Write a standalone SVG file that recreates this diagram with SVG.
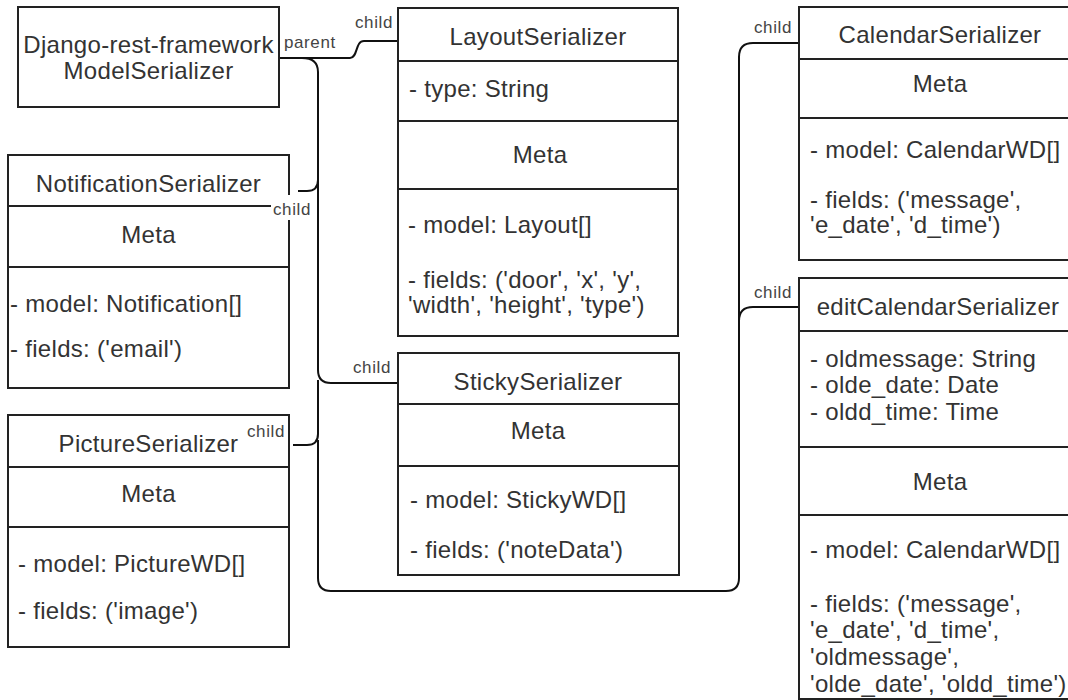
<svg xmlns="http://www.w3.org/2000/svg" width="1068" height="700" viewBox="0 0 1068 700">
<style>
  .box { fill: #fff; stroke: #222; stroke-width: 2; }
  .div { stroke: #222; stroke-width: 2; }
  .t { font-family: "Liberation Sans", Arial, sans-serif; font-size: 24px; letter-spacing: 0.3px; fill: #333; }
  .c { text-anchor: middle; }
  .lbl { font-family: "Liberation Sans", Arial, sans-serif; font-size: 17px; letter-spacing: 0.6px; fill: #444; }
  .edge { fill: none; stroke: #111; stroke-width: 2; }
</style>
<rect width="1068" height="700" fill="#fff"/>

<g id="connectors">
  <path class="edge" d="M279,58 H350 C358,58 355,41 364,41 H398"/>
  <path class="edge" d="M279,58 H302 Q318,58 318,72 V180 Q318,191 307,191 H298"/>
  <path class="edge" d="M318,180 V370 Q318,383 331,383 H398"/>
  <path class="edge" d="M318,380 V434 Q318,445 307,445 H293"/>
  <path class="edge" d="M318,440 V578 Q318,591 331,591 H726 Q739,591 739,578 V57 Q739,43 753,43 H799"/>
  <path class="edge" d="M739,300 V321 Q739,307 753,307 H799"/>
</g>

<g id="django">
  <rect class="box" x="18" y="7" width="261" height="100"/>
  <text class="t c" x="148.5" y="53">Django-rest-framework</text>
  <text class="t c" x="148.5" y="79">ModelSerializer</text>
</g>

<g id="notification">
  <rect class="box" x="8" y="155" width="281" height="233"/>
  <line class="div" x1="8" y1="206" x2="289" y2="206"/>
  <line class="div" x1="8" y1="267" x2="289" y2="267"/>
  <text class="t c" x="148.5" y="192">NotificationSerializer</text>
  <text class="t c" x="148.5" y="243">Meta</text>
  <text class="t" x="10" y="312">- model: Notification[]</text>
  <text class="t" x="10" y="357">- fields: ('email')</text>
</g>

<g id="picture">
  <rect class="box" x="8" y="415" width="281" height="232"/>
  <line class="div" x1="8" y1="467" x2="289" y2="467"/>
  <line class="div" x1="8" y1="527" x2="289" y2="527"/>
  <text class="t c" x="148.5" y="452">PictureSerializer</text>
  <text class="t c" x="148.5" y="502">Meta</text>
  <text class="t" x="18" y="572">- model: PictureWD[]</text>
  <text class="t" x="18" y="619">- fields: ('image')</text>
</g>

<g id="layout">
  <rect class="box" x="398" y="8" width="280" height="328"/>
  <line class="div" x1="398" y1="61" x2="678" y2="61"/>
  <line class="div" x1="398" y1="121" x2="678" y2="121"/>
  <line class="div" x1="398" y1="189" x2="678" y2="189"/>
  <text class="t c" x="538" y="45">LayoutSerializer</text>
  <text class="t" x="409" y="97">- type: String</text>
  <text class="t c" x="540" y="163">Meta</text>
  <text class="t" x="408" y="233">- model: Layout[]</text>
  <text class="t" x="408" y="288">- fields: ('door', 'x', 'y',</text>
  <text class="t" x="408" y="313">'width', 'height', 'type')</text>
</g>

<g id="sticky">
  <rect class="box" x="398" y="353" width="281" height="222"/>
  <line class="div" x1="398" y1="404" x2="679" y2="404"/>
  <line class="div" x1="398" y1="466" x2="679" y2="466"/>
  <text class="t c" x="538" y="390">StickySerializer</text>
  <text class="t c" x="538" y="439">Meta</text>
  <text class="t" x="410" y="508">- model: StickyWD[]</text>
  <text class="t" x="410" y="558">- fields: ('noteData')</text>
</g>

<g id="calendar">
  <rect class="box" x="799" y="7" width="282" height="253"/>
  <line class="div" x1="799" y1="59" x2="1081" y2="59"/>
  <line class="div" x1="799" y1="118" x2="1081" y2="118"/>
  <text class="t c" x="940" y="43">CalendarSerializer</text>
  <text class="t c" x="940" y="92">Meta</text>
  <text class="t" x="810" y="158">- model: CalendarWD[]</text>
  <text class="t" x="810" y="208">- fields: ('message',</text>
  <text class="t" x="810" y="233">'e_date', 'd_time')</text>
</g>

<g id="editCalendar">
  <rect class="box" x="799" y="278" width="282" height="421"/>
  <line class="div" x1="799" y1="331" x2="1081" y2="331"/>
  <line class="div" x1="799" y1="447" x2="1081" y2="447"/>
  <line class="div" x1="799" y1="515" x2="1081" y2="515"/>
  <text class="t c" x="938" y="315">editCalendarSerializer</text>
  <text class="t" x="810" y="367">- oldmessage: String</text>
  <text class="t" x="810" y="393">- olde_date: Date</text>
  <text class="t" x="810" y="420">- oldd_time: Time</text>
  <text class="t c" x="940" y="490">Meta</text>
  <text class="t" x="810" y="558">- model: CalendarWD[]</text>
  <text class="t" x="810" y="612">- fields: ('message',</text>
  <text class="t" x="810" y="638">'e_date', 'd_time',</text>
  <text class="t" x="810" y="665">'oldmessage',</text>
  <text class="t" x="810" y="692">'olde_date', 'oldd_time')</text>
</g>

<g id="labels">
  <text class="lbl" x="284" y="48">parent</text>
  <text class="lbl" x="355" y="28">child</text>
  <rect x="271" y="195" width="43" height="25" fill="#fff"/>
  <text class="lbl" x="273" y="215">child</text>
  <text class="lbl" x="247" y="437">child</text>
  <text class="lbl" x="353" y="373">child</text>
  <text class="lbl" x="754" y="33">child</text>
  <text class="lbl" x="754" y="298">child</text>
</g>
</svg>
